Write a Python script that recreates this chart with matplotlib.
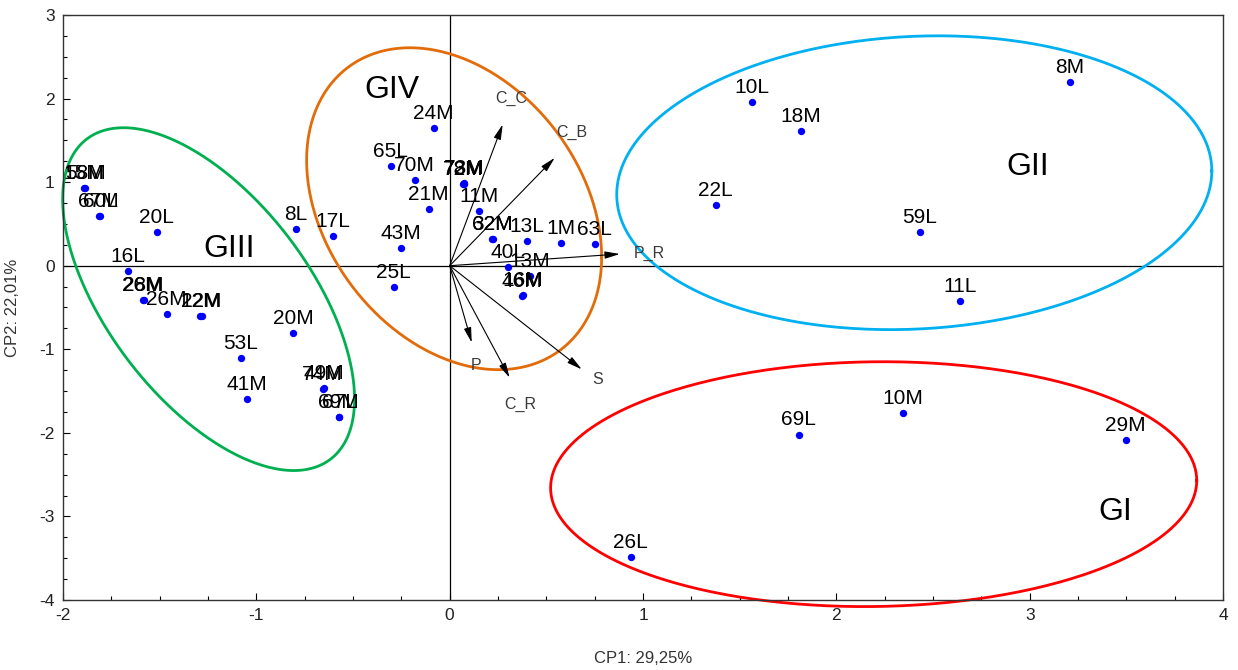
import numpy as np
import matplotlib
matplotlib.use("Agg")
import matplotlib.pyplot as plt
from matplotlib.ticker import MultipleLocator

plt.rcParams['font.family'] = ['Liberation Sans', 'DejaVu Sans']
plt.rcParams['axes.unicode_minus'] = False

# --- observations (CP1, CP2) ---
obs_names = ["15M", "58M", "67M", "60L", "20L", "16L", "26M", "28M", "26M", "22M", "12M",
             "8L", "17L", "20M", "53L", "41M", "74M", "49M", "69M", "67L",
             "24M", "65L", "70M", "21M", "43M", "25L", "72M", "73M", "78M", "11M",
             "32M", "62M", "13L", "1M", "63L", "40L", "13M", "46M", "16M",
             "10L", "18M", "8M", "22L", "59L", "11L", "10M", "69L", "29M", "26L"]
obs_x = [-1.893, -1.885, -1.816, -1.808, -1.516, -1.666, -1.588, -1.583, -1.464, -1.283, -1.290,
         -0.797, -0.605, -0.810, -1.080, -1.050, -0.657, -0.652, -0.574, -0.570,
         -0.083, -0.305, -0.181, -0.109, -0.253, -0.290, 0.072, 0.076, 0.068, 0.150,
         0.222, 0.220, 0.398, 0.574, 0.750, 0.300, 0.414, 0.372, 0.377,
         1.562, 1.816, 3.207, 1.376, 2.431, 2.638, 2.343, 1.805, 3.497, 0.936]
obs_y = [0.933, 0.930, 0.598, 0.600, 0.407, -0.060, -0.410, -0.405, -0.574, -0.600, -0.598,
         0.440, 0.350, -0.800, -1.110, -1.600, -1.470, -1.465, -1.810, -1.805,
         1.650, 1.196, 1.030, 0.680, 0.215, -0.260, 0.980, 0.985, 0.978, 0.660,
         0.320, 0.318, 0.300, 0.275, 0.260, -0.010, -0.120, -0.360, -0.355,
         1.960, 1.615, 2.200, 0.730, 0.407, -0.420, -1.760, -2.020, -2.090, -3.490]

# --- variable loadings (arrows) ---
var_names = ["C_C", "C_B", "P_R", "P", "C_R", "S"]
var_x = [0.274, 0.543, 0.880, 0.114, 0.310, 0.683]
var_y = [1.690, 1.290, 0.140, -0.920, -1.340, -1.240]
var_label_x = [0.316, 0.631, 1.035, 0.135, 0.367, 0.766]
var_label_y = [2.000, 1.600, 0.150, -1.200, -1.660, -1.360]

# --- group ellipses: center x, center y, half-width x, half-height y, correlation ---
grp_names = ["GI", "GII", "GIII", "GIV"]
grp_colors = ["#ff0000", "#00b0f0", "#00b050", "#e36c0a"]
grp_cx = [2.193, 2.403, -1.247, 0.023]
grp_cy = [-2.614, 0.993, -0.400, 0.682]
grp_sx = [1.671, 1.539, 0.755, 0.763]
grp_sy = [1.465, 1.758, 2.051, 1.926]
grp_rho = [0.03, 0.08, -0.583, -0.30]
grp_label_x = [3.44, 2.99, -1.14, -0.30]
grp_label_y = [-2.95, 1.18, 0.20, 2.10]

fig = plt.figure(figsize=(12.38, 6.70), dpi=100)
ax = fig.add_axes([0.0509, 0.1045, 0.9370, 0.8731])
ax.set_xlim(-2, 4)
ax.set_ylim(-4, 3)

ax.axhline(0, color="black", lw=0.9, zorder=1)
ax.axvline(0, color="black", lw=0.9, zorder=1)

t = np.linspace(0, 2 * np.pi, 400)
for cx, cy, sx, sy, r, c in zip(grp_cx, grp_cy, grp_sx, grp_sy, grp_rho, grp_colors):
    ex = cx + sx * np.cos(t)
    ey = cy + sy * (r * np.cos(t) + np.sqrt(1 - r * r) * np.sin(t))
    ax.plot(ex, ey, color=c, lw=2.0, clip_on=False, zorder=2)

for name, gx, gy in zip(grp_names, grp_label_x, grp_label_y):
    ax.text(gx, gy, name, fontsize=23, ha="center", va="center", color="black")

for name, vx, vy, lx, ly in zip(var_names, var_x, var_y, var_label_x, var_label_y):
    ax.annotate("", xy=(vx, vy), xytext=(0, 0),
                arrowprops=dict(arrowstyle="-|>,head_length=0.9,head_width=0.22",
                                color="black", lw=0.8, shrinkA=0, shrinkB=0),
                zorder=3)
    ax.text(lx, ly, name, fontsize=11.5, ha="center", va="center", color="#3a3a3a")

ax.scatter(obs_x, obs_y, s=28, color="#0000ff", zorder=4, linewidths=0)
for name, x, y in zip(obs_names, obs_x, obs_y):
    ax.annotate(name, (x, y), xytext=(0, 6.5), textcoords="offset points",
                ha="center", va="baseline", fontsize=15, color="black", zorder=5,
                annotation_clip=False)

ax.xaxis.set_major_locator(MultipleLocator(1))
ax.yaxis.set_major_locator(MultipleLocator(1))
ax.xaxis.set_minor_locator(MultipleLocator(0.25))
ax.yaxis.set_minor_locator(MultipleLocator(0.25))
ax.tick_params(which="both", direction="in", colors="black", labelcolor="#222222",
               labelsize=12.5)
ax.tick_params(which="major", length=5, width=0.8, pad=6)
ax.tick_params(which="minor", length=3, width=0.8)
for sp in ax.spines.values():
    sp.set_color("#333333")
    sp.set_linewidth(1.0)

ax.set_xlabel("CP1: 29,25%", fontsize=12, color="#333333", labelpad=20)
ax.set_ylabel("CP2: 22,01%", fontsize=12, color="#333333", labelpad=14)

fig.savefig("out.png", dpi=100)
